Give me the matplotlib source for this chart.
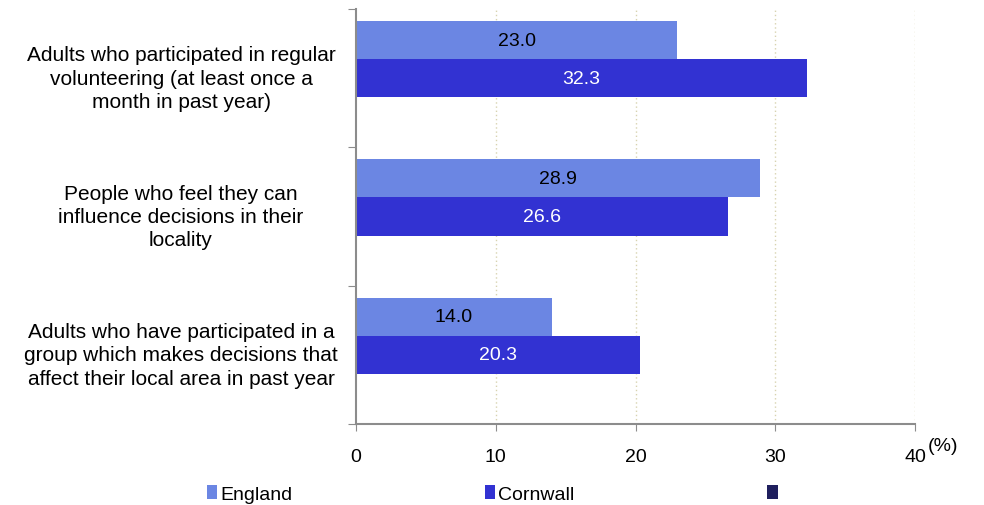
import matplotlib
matplotlib.use("Agg")
import matplotlib.pyplot as plt
import numpy as np
from matplotlib.patches import Patch

plt.rcParams['font.family'] = ['Liberation Sans', 'DejaVu Sans']

categories = [
    "Adults who participated in regular\nvolunteering (at least once a\nmonth in past year)",
    "People who feel they can\ninfluence decisions in their\nlocality",
    "Adults who have participated in a\ngroup which makes decisions that\naffect their local area in past year",
]
england = [23.0, 28.9, 14.0]
cornwall = [32.3, 26.6, 20.3]
series_names = ["England", "Cornwall", ""]
colors = ["#6B86E3", "#3232D2", "#1F1F5E"]

fig = plt.figure(figsize=(9.84, 5.06), dpi=100)
ax = fig.add_axes([356/984, 1-425/506, (915-356)/984, (425-10)/506])

n = len(categories)
band = 1.0
bh = (band - 24/138.5) / 3
for i in range(n):
    top = i - band/2 + 12/138.5
    ax.barh(top + bh/2, england[i], height=bh, color=colors[0])
    ax.barh(top + 1.5*bh, cornwall[i], height=bh, color=colors[1])
    ax.text(england[i]/2, top + bh/2, f"{england[i]:.1f}", ha='center', va='center',
            fontsize=14, color='black')
    ax.text(cornwall[i]/2, top + 1.5*bh, f"{cornwall[i]:.1f}", ha='center', va='center',
            fontsize=14, color='white')

ax.set_ylim(n - 0.5, -0.5)
ax.set_xlim(0, 40)
ax.set_xticks([0, 10, 20, 30, 40])
ax.set_xticklabels(["0", "10", "20", "30", "40"], fontsize=14)
ax.set_yticks([-0.5, 0.5, 1.5, 2.5])
ax.set_yticklabels([])
ax.tick_params(axis='y', length=6, color='#8c8c8c', direction='out')
ax.tick_params(axis='x', length=5, color='#8c8c8c', direction='out', pad=12)
for i, c in enumerate(categories):
    ax.text(-0.313, i, c, transform=ax.get_yaxis_transform(), ha='center', va='center',
            fontsize=15, linespacing=1.3)
for x in [10, 20, 30, 40]:
    ax.axvline(x, color='#d8d3b0', linestyle=(0, (1, 2)), linewidth=1, zorder=0)
for s in ['top', 'right']:
    ax.spines[s].set_visible(False)
for s in ['left', 'bottom']:
    ax.spines[s].set_color('#8c8c8c')
    ax.spines[s].set_linewidth(1.5)

fig.text(928/984, 1-447/506, "(%)", fontsize=14, ha='left', va='center')

handles = [Patch(facecolor=c, edgecolor='none') for c in colors]
fig.legend(handles, series_names, loc='lower left', bbox_to_anchor=(189/984, -0.03),
           ncol=3, frameon=False, fontsize=14, handlelength=0.55, handleheight=0.7,
           handletextpad=0.15, columnspacing=9.9)

fig.savefig("out.png", dpi=100)
